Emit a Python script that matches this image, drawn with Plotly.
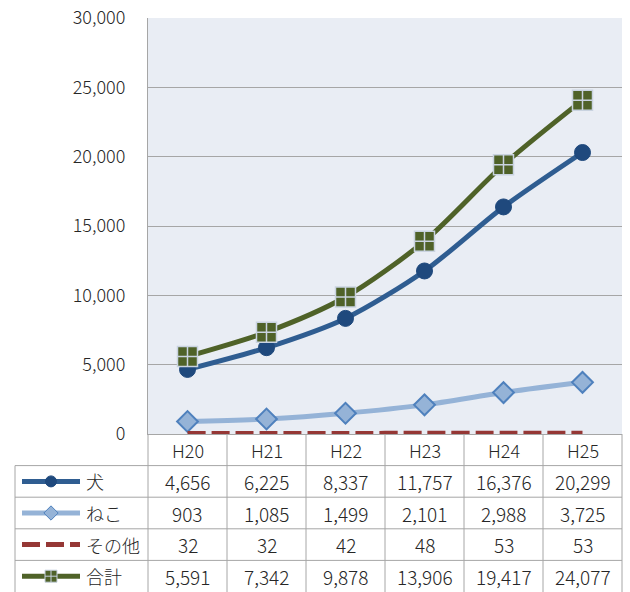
import plotly.graph_objects as go

# ---- data ----
categories = ["H20", "H21", "H22", "H23", "H24", "H25"]
series_names = ["犬", "ねこ", "その他", "合計"]
dog = [4656, 6225, 8337, 11757, 16376, 20299]
cat = [903, 1085, 1499, 2101, 2988, 3725]
other = [32, 32, 42, 48, 53, 53]
total = [5591, 7342, 9878, 13906, 19417, 24077]
y_ticks = [0, 5000, 10000, 15000, 20000, 25000, 30000]

# ---- geometry (pixels) ----
W, H = 630, 592
PL, PR, PT, PB = 148, 622, 18, 434      # plot area
TL = 15                                  # table left edge
ROW_H = 31.6
FONT = "Noto Sans CJK JP"
FW = 300
TXT = "#262626"
GRID = "#A6A6A6"
BG = "#E9EDF4"

styles = [
    dict(color="#2F5D91", mcolor="#1F497D", mline="#1F497D", symbol="circle", size=16, lsize=11, dash="solid", mlw=1),
    dict(color="#95B3D7", mcolor="#95B3D7", mline="#4F81BD", symbol="diamond", size=16, lsize=11, dash="solid", mlw=2),
    dict(color="#953735", mcolor=None, mline=None, symbol=None, size=0, lsize=0, dash="18px,6px", mlw=0),
    dict(color="#4F6228", mcolor="#4F6228", mline="#C9D3E0", symbol="square-cross", size=20, lsize=12, dash="solid", mlw=1.5),
]
values = [dog, cat, other, total]

fig = go.Figure()

for name, vals, st in zip(series_names, values, styles):
    kw = dict(x=categories, y=vals, name=name, xaxis="x", yaxis="y",
              line=dict(color=st["color"], width=5, dash=st["dash"], shape="spline", smoothing=0.8),
              showlegend=False, hoverinfo="skip")
    if st["symbol"]:
        kw["mode"] = "lines+markers"
        kw["marker"] = dict(symbol=st["symbol"], size=st["size"], color=st["mcolor"],
                            line=dict(color=st["mline"], width=st["mlw"]))
    else:
        kw["mode"] = "lines"
    fig.add_trace(go.Scatter(**kw))

ncat = len(categories)
colw = (PR - PL) / ncat
col_centers = [PL + (i + 0.5) * colw for i in range(ncat)]
row_lines = [PB + ROW_H * (k + 1) for k in range(len(series_names) + 1)]
row_centers = [PB + ROW_H * (k + 0.5) for k in range(len(series_names) + 1)]

# legend samples inside the table (overlay pixel axes)
for k, st in enumerate(styles):
    yc = row_centers[k + 1]
    fig.add_trace(go.Scatter(x=[22, 80], y=[yc, yc], mode="lines", xaxis="x2", yaxis="y2",
                             line=dict(color=st["color"], width=5, dash=st["dash"]),
                             showlegend=False, hoverinfo="skip"))
    if st["symbol"]:
        fig.add_trace(go.Scatter(x=[51], y=[yc], mode="markers", xaxis="x2", yaxis="y2",
                                 marker=dict(symbol=st["symbol"], size=st["lsize"], color=st["mcolor"],
                                             line=dict(color=st["mline"], width=1)),
                                 showlegend=False, hoverinfo="skip"))

shapes = []
# plot background
shapes.append(dict(type="rect", xref="x domain", yref="y domain", x0=0, x1=1, y0=0, y1=1,
                   fillcolor=BG, line=dict(width=0), layer="below"))
# table horizontal lines
for k, yl in enumerate(row_lines[:-1]):
    shapes.append(dict(type="line", xref="x2", yref="y2", x0=TL, x1=PR, y0=yl, y1=yl,
                       line=dict(color=GRID, width=1)))
# table vertical lines
shapes.append(dict(type="line", xref="x2", yref="y2", x0=TL, x1=TL, y0=row_lines[0], y1=H,
                   line=dict(color=GRID, width=1)))
shapes.append(dict(type="line", xref="x2", yref="y2", x0=PL, x1=PL, y0=PB, y1=H,
                   line=dict(color=GRID, width=1)))
for i in range(1, ncat + 1):
    xv = PL + i * colw
    shapes.append(dict(type="line", xref="x2", yref="y2", x0=xv, x1=xv, y0=PB, y1=H,
                       line=dict(color=GRID, width=1)))

annotations = []
for c, xc in zip(categories, col_centers):
    annotations.append(dict(x=xc, y=row_centers[0], xref="x2", yref="y2", text=c, showarrow=False,
                            xanchor="center", yanchor="middle",
                            font=dict(family=FONT, size=18, color=TXT, weight=FW)))
for k, (name, vals) in enumerate(zip(series_names, values)):
    yc = row_centers[k + 1]
    annotations.append(dict(x=84, y=yc, xref="x2", yref="y2", text=name, showarrow=False,
                            xanchor="left", yanchor="middle",
                            font=dict(family=FONT, size=18, color=TXT, weight=FW)))
    for v, xc in zip(vals, col_centers):
        annotations.append(dict(x=xc, y=yc, xref="x2", yref="y2", text=f"{v:,}", showarrow=False,
                                xanchor="center", yanchor="middle",
                                font=dict(family=FONT, size=19, color=TXT, weight=FW)))

fig.update_layout(
    width=W, height=H,
    margin=dict(l=0, r=0, t=0, b=0, autoexpand=False),
    paper_bgcolor="white",
    plot_bgcolor="rgba(0,0,0,0)",
    xaxis=dict(domain=[PL / W, PR / W], type="category", range=[-0.5, ncat - 0.5],
               showgrid=False, showline=True, linecolor=GRID, linewidth=1, automargin=False,
               showticklabels=False, ticks="", zeroline=False, fixedrange=True, anchor="y"),
    yaxis=dict(domain=[1 - PB / H, 1 - PT / H], range=[0, 30000], tickvals=y_ticks, tickformat=",",
               showgrid=True, gridcolor=GRID, gridwidth=1, showline=True, linecolor=GRID,
               zeroline=False, ticks="", ticklabelstandoff=18, fixedrange=True, anchor="x",
               automargin=False, tickfont=dict(family=FONT, size=18, color=TXT, weight=FW)),
    xaxis2=dict(domain=[0, 1], range=[0, W], visible=False, fixedrange=True, anchor="y2", automargin=False),
    yaxis2=dict(domain=[0, 1], range=[H, 0], visible=False, fixedrange=True, anchor="x2", automargin=False),
    shapes=shapes,
    annotations=annotations,
)

fig.write_html("out.html", config={"displayModeBar": False},
               post_script="document.body.style.margin='0';document.body.style.overflow='hidden';")
